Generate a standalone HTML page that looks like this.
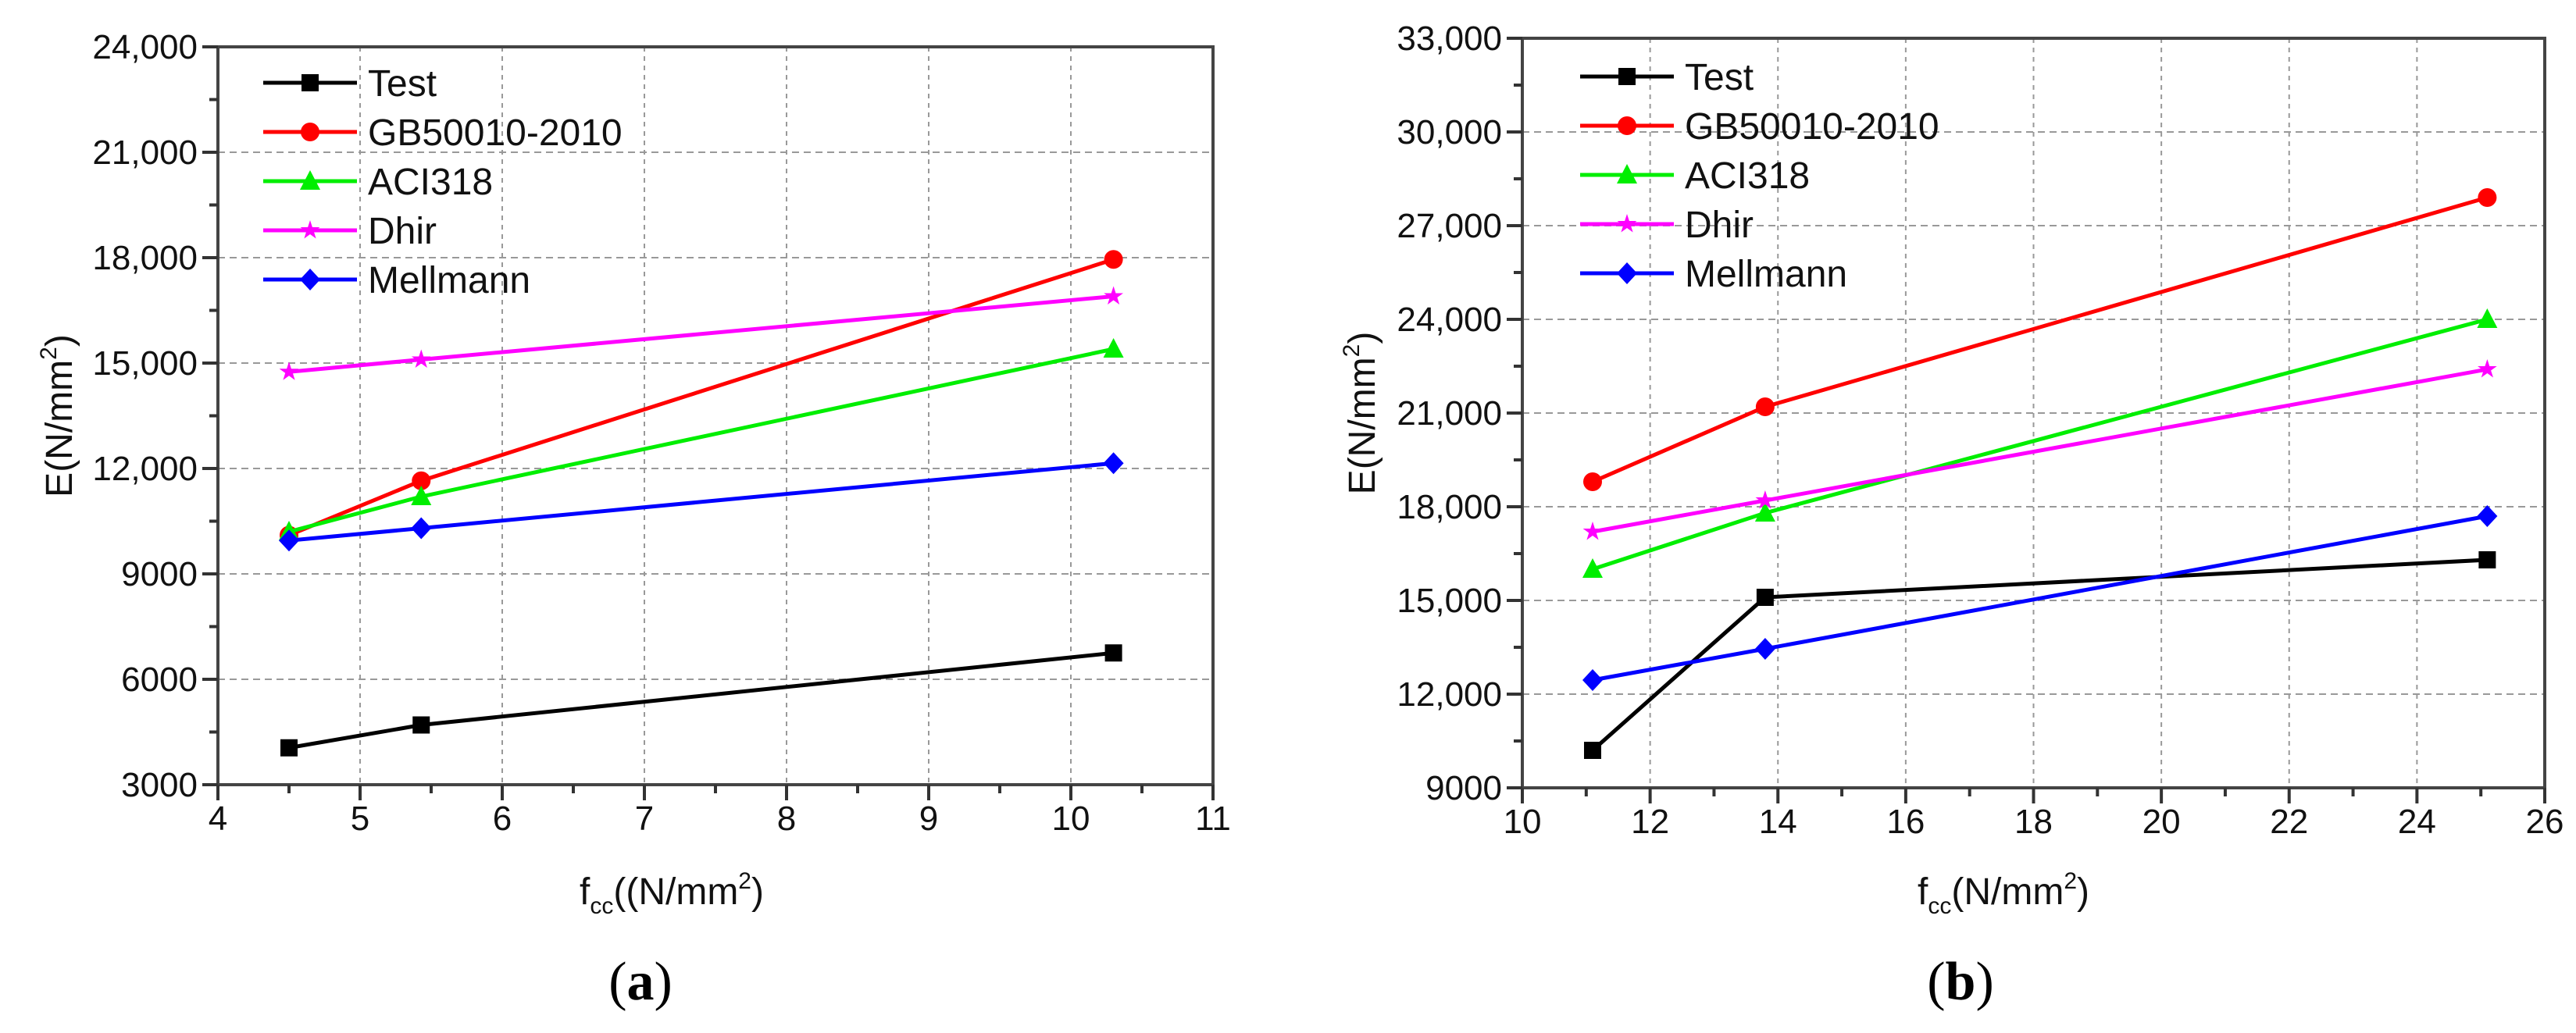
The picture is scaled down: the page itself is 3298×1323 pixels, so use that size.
<!DOCTYPE html>
<html><head><meta charset="utf-8"><style>
html,body{margin:0;padding:0;background:#fff;}
svg{display:block;font-family:"Liberation Sans",sans-serif;}
</style></head><body>
<svg id="fig" width="3298" height="1323" viewBox="0 0 3298 1323" xmlns="http://www.w3.org/2000/svg"></svg>
<script>
const seriesNames = ["Test","GB50010-2010","ACI318","Dhir","Mellmann"];
const seriesColors = ["#000000","#ff0000","#00ee00","#ff00ff","#0000ff"];
const seriesMarkers = ["square","circle","triangle","star","diamond"];
const xA = [4.5, 5.43, 10.3];
const testA = [4050, 4700, 6750];
const gbA = [10100, 11650, 17950];
const aciA = [10200, 11200, 15400];
const dhirA = [14750, 15100, 16900];
const mellA = [9950, 10300, 12150];
const xTicksA = [4,5,6,7,8,9,10,11];
const yTicksA = [3000,6000,9000,12000,15000,18000,21000,24000];
const yLabelsA = ["3000","6000","9000","12,000","15,000","18,000","21,000","24,000"];
const xB = [11.1, 13.8, 25.1];
const testB = [10200, 15100, 16300];
const gbB = [18800, 21200, 27900];
const aciB = [16000, 17800, 24000];
const dhirB = [17200, 18200, 22400];
const mellB = [12450, 13450, 17700];
const xTicksB = [10,12,14,16,18,20,22,24,26];
const yTicksB = [9000,12000,15000,18000,21000,24000,27000,30000,33000];
const yLabelsB = ["9000","12,000","15,000","18,000","21,000","24,000","27,000","30,000","33,000"];

const NS="http://www.w3.org/2000/svg";
const svg=document.getElementById('fig');
function mk(tag,attrs,parent){const e=document.createElementNS(NS,tag);for(const k in attrs)e.setAttribute(k,attrs[k]);(parent||svg).appendChild(e);return e;}

function marker(g,type,cx,cy,color){
  let e;const s=11;
  if(type==="square") e=mk('rect',{x:cx-s,y:cy-s,width:2*s,height:2*s,fill:color},g);
  else if(type==="circle") e=mk('circle',{cx:cx,cy:cy,r:s+1,fill:color},g);
  else if(type==="triangle") e=mk('polygon',{points:`${cx},${cy-s-3} ${cx+s+2},${cy+s} ${cx-s-2},${cy+s}`,fill:color},g);
  else if(type==="diamond") e=mk('polygon',{points:`${cx},${cy-s-3} ${cx+s+2},${cy} ${cx},${cy+s+3} ${cx-s-2},${cy}`,fill:color},g);
  else {let p=[];for(let i=0;i<10;i++){const r=i%2?5:13;const a=-Math.PI/2+i*Math.PI/5;p.push((cx+r*Math.cos(a)).toFixed(1)+','+(cy+r*Math.sin(a)).toFixed(1));}
    e=mk('polygon',{points:p.join(' '),fill:color},g);}
  return e;
}

function panel(cfg){
  const g=mk('g',{});
  
  
  const sx=v=>cfg.L+(v-cfg.x0)/(cfg.x1-cfg.x0)*(cfg.R-cfg.L);
  const sy=v=>cfg.B-(v-cfg.y0)/(cfg.y1-cfg.y0)*(cfg.B-cfg.T);
  cfg.xTicks.forEach(t=>{if(t>cfg.x0&&t<cfg.x1){const l=mk('line',{x1:sx(t),x2:sx(t),y1:cfg.T,y2:cfg.B,stroke:'#999','stroke-width':2,'stroke-dasharray':'6,6'},g);}});
  cfg.yTicks.forEach(t=>{if(t>cfg.y0&&t<cfg.y1){const l=mk('line',{x1:cfg.L,x2:cfg.R,y1:sy(t),y2:sy(t),stroke:'#999','stroke-width':2,'stroke-dasharray':'9,6'},g);}});
  const fr=mk('rect',{x:cfg.L,y:cfg.T,width:cfg.R-cfg.L,height:cfg.B-cfg.T,fill:'none',stroke:'#444','stroke-width':4},g);
  
  for(let v=cfg.x0;v<=cfg.x1+1e-9;v+=cfg.xMinor){const major=cfg.xTicks.some(t=>Math.abs(t-v)<1e-6);mk('line',{x1:sx(v),x2:sx(v),y1:cfg.B,y2:cfg.B+(major?20:11),stroke:'#333','stroke-width':4},g);}
  for(let v=cfg.y0;v<=cfg.y1+1e-9;v+=1500){const major=cfg.yTicks.some(t=>Math.abs(t-v)<1e-6);mk('line',{x1:cfg.L-(major?20:11),x2:cfg.L,y1:sy(v),y2:sy(v),stroke:'#333','stroke-width':4},g);}
  cfg.xTicks.forEach(t=>{const e=mk('text',{x:sx(t),y:cfg.B+58,'font-size':44,'text-anchor':'middle',fill:'#111'},g);e.textContent=t;});
  cfg.yTicks.forEach((t,i)=>{const e=mk('text',{x:cfg.L-26,y:sy(t)+15,'font-size':44,'text-anchor':'end',fill:'#111'},g);e.textContent=cfg.yLabels[i];});
  cfg.series.forEach((ys,si)=>{
    const sg=mk('g',{},g);
    
    
    const pts=cfg.xs.map((x,i)=>sx(x)+','+sy(ys[i])).join(' ');
    mk('polyline',{points:pts,fill:'none',stroke:seriesColors[si],'stroke-width':5},sg);
    cfg.xs.forEach((x,i)=>{const m=marker(sg,seriesMarkers[si],sx(x),sy(ys[i]),seriesColors[si]);});
  });
  const lg=mk('g',{},g);
  
  
  seriesNames.forEach((n,i)=>{
    const y=cfg.legY+i*63;
    const eg=mk('g',{},lg);
    
    
    mk('line',{x1:cfg.legX,x2:cfg.legX+120,y1:y,y2:y,stroke:seriesColors[i],'stroke-width':5},eg);
    marker(eg,seriesMarkers[i],cfg.legX+60,y,seriesColors[i]);
    const t=mk('text',{x:cfg.legX+134,y:y+17,'font-size':48,fill:'#111'},eg);t.textContent=n;
  });
  const yt=mk('text',{transform:`translate(${cfg.yTitleX},${(cfg.T+cfg.B)/2}) rotate(-90)`,'font-size':48,'text-anchor':'middle',fill:'#111'},g);
  yt.innerHTML='E(N/mm<tspan font-size="30" dy="-20">2</tspan><tspan dy="20">)</tspan>';
  
  const xt=mk('text',{x:cfg.xTitleX,y:1158,'font-size':48,'text-anchor':'middle',fill:'#111'},g);
  xt.innerHTML='f<tspan font-size="30" dy="12">cc</tspan><tspan dy="-12">'+cfg.xTitleRest+'N/mm</tspan><tspan font-size="30" dy="-20">2</tspan><tspan dy="20">)</tspan>';
  
  const cap=mk('text',{x:cfg.capX,y:1280,'font-size':70,'text-anchor':'middle',fill:'#000','font-family':'Liberation Serif, serif'},g);
  cap.innerHTML='(<tspan font-weight="bold">'+cfg.cap+'</tspan>)';
  
}

panel({name:'chart-a',L:279,R:1553,T:60,B:1005,x0:4,x1:11,y0:3000,y1:24000,xMinor:0.5,
  xTicks:xTicksA,yTicks:yTicksA,yLabels:yLabelsA,xs:xA,series:[testA,gbA,aciA,dhirA,mellA],
  legX:337,legY:106,yTitleX:92,xTitleX:860,xTitleRest:'((',capX:820,cap:'a'});
panel({name:'chart-b',L:1949,R:3258,T:49,B:1009,x0:10,x1:26,y0:9000,y1:33000,xMinor:1,
  xTicks:xTicksB,yTicks:yTicksB,yLabels:yLabelsB,xs:xB,series:[testB,gbB,aciB,dhirB,mellB],
  legX:2023,legY:98,yTitleX:1760,xTitleX:2565,xTitleRest:'(',capX:2510,cap:'b'});
</script>
</body></html>
